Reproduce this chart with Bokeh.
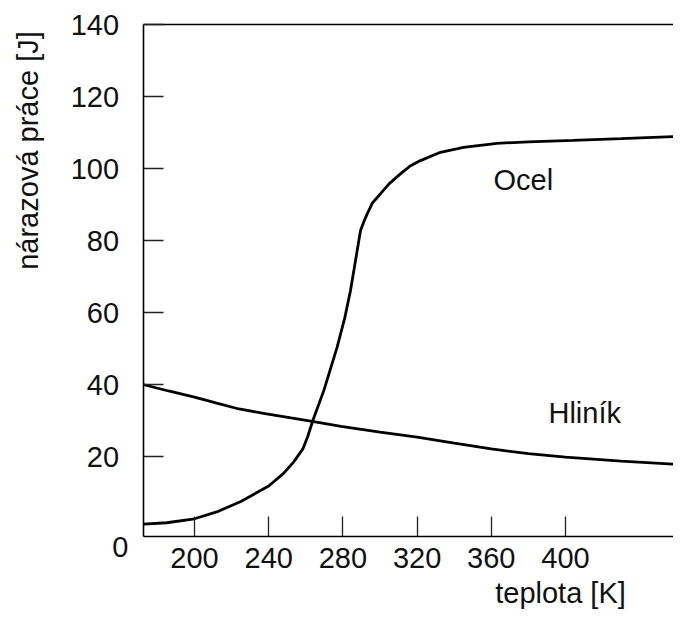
from bokeh.plotting import figure
from bokeh.models import FixedTicker, Label, LinearAxis
from bokeh.embed import file_html
from bokeh.resources import INLINE
from math import pi

# Data
steel_T = [172.6, 185, 200, 212, 225, 240, 248, 253.5, 258.5, 261, 263.8, 269.7, 276.9,
           281, 284.1, 287.7, 289.5, 291.5, 293.1, 296, 300.3, 305, 311, 316, 321.8,
           332.6, 345, 363, 380, 404, 430, 460]
steel_J = [1.2, 1.6, 2.7, 4.6, 7.5, 11.8, 15.3, 18.5, 22.2, 25.5, 30.0, 38.3, 50.4,
           58.5, 66.1, 77.2, 82.8, 85.5, 87.4, 90.5, 93.0, 95.8, 98.5, 100.6, 102.2,
           104.5, 105.9, 107.0, 107.4, 107.8, 108.3, 108.9]
alu_T = [172.3, 186, 200, 212, 224, 238, 252, 265, 279, 300, 320, 340, 360, 380, 400, 430, 460]
alu_J = [40.0, 38.2, 36.5, 34.8, 33.2, 31.9, 30.7, 29.6, 28.4, 26.8, 25.4, 23.7, 22.1,
         20.8, 19.8, 18.7, 17.8]
x_ticks = [200, 240, 280, 320, 360, 400]
y_ticks = [20, 40, 60, 80, 100, 120, 140]
x_lo, x_hi = 172.3, 458.2
y_lo, y_hi = -2.2, 140

FONT = "Liberation Sans"
FS = "29px"
TXT = "#111111"

p = figure(width=673, height=609, output_backend="svg", toolbar_location=None,
           x_range=(95.42, 458.22), y_range=(-22.5, 146.67),
           x_axis_type=None, y_axis_type=None,
           min_border_left=0, min_border_right=0, min_border_top=0, min_border_bottom=0)
p.outline_line_color = None
p.xgrid.grid_line_color = None
p.ygrid.grid_line_color = None
p.background_fill_color = "white"
p.border_fill_color = "white"

xax = LinearAxis(fixed_location=y_lo, bounds=(x_lo, x_hi), ticker=FixedTicker(ticks=x_ticks))
yax = LinearAxis(fixed_location=x_lo, bounds=(y_lo, y_hi), ticker=FixedTicker(ticks=y_ticks))
tax = LinearAxis(fixed_location=y_hi, bounds=(x_lo, x_hi), ticker=FixedTicker(ticks=[]))

for ax in (xax, yax, tax):
    ax.axis_line_color = "black"
    ax.axis_line_width = 1.6
    ax.major_tick_line_color = "#222222"
    ax.major_tick_line_width = 1.3
    ax.major_tick_in = 20
    ax.major_tick_out = 0
    ax.minor_tick_line_color = None
    ax.major_label_text_font = FONT
    ax.major_label_text_font_size = FS
    ax.major_label_text_color = TXT
tax.major_label_text_font_size = "0px"
xax.major_label_standoff = 12
yax.major_label_standoff = 24

p.add_layout(xax, "below")
p.add_layout(yax, "left")
p.add_layout(tax, "above")

p.line(steel_T, steel_J, line_color="black", line_width=2.8)
p.line(alu_T, alu_J, line_color="black", line_width=2.8)

def lab(x, y, text, align="left", baseline="alphabetic", angle=0):
    p.add_layout(Label(x=x, y=y, text=text, text_font=FONT, text_font_size=FS,
                       text_color=TXT, text_align=align, text_baseline=baseline, angle=angle))

lab(361.2, 96.7, "Ocel")
lab(390.8, 32.0, "Hliník")
lab(164.4, -5.1, "0", align="right")
lab(397.3, -18.0, "teplota [K]", align="center")
lab(110.3, 105, "nárazová práce [J]", align="center", angle=pi / 2)

open("out.html", "w").write(file_html(p, INLINE))
